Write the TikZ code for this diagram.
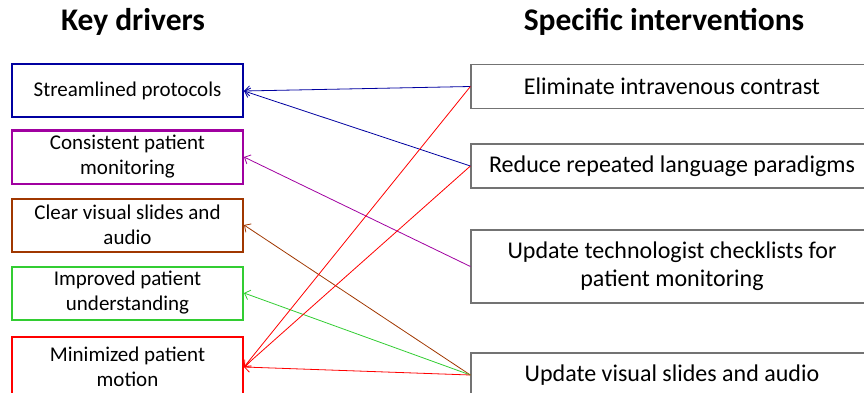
\documentclass[tikz,border=0pt]{standalone}
\usepackage{fontspec}
\setmainfont{Carlito}
\usetikzlibrary{arrows.meta}

\definecolor{drvblue}{RGB}{0,0,160}
\definecolor{drvpurple}{RGB}{160,0,160}
\definecolor{drvbrown}{RGB}{160,55,0}
\definecolor{drvgreen}{RGB}{50,205,50}
\definecolor{drvred}{RGB}{255,0,0}

\begin{document}
\begin{tikzpicture}[x=1pt, y=-1pt,
  driver/.style = {draw, line width=2pt, minimum width=231pt, minimum height=53pt,
                   align=center, font=\fontsize{21}{25}\selectfont, inner sep=0pt},
  action/.style = {draw=black!55, line width=1.2pt, minimum width=402pt, minimum height=44pt,
                   align=center, font=\fontsize{24}{28}\selectfont, inner sep=0pt},
  title/.style = {font=\fontsize{31.5}{36}\selectfont\bfseries},
  link/.style = {line width=0.8pt, -{Straight Barb[length=5pt,width=10pt]}}]
\useasboundingbox (0,0) rectangle (864,393);

\node[title] (kd) at (133,22) {Key drivers};
\node[title] (si) at (664,22) {Specific interventions};

\node[driver, draw=drvblue]   (d1) at (127.5,91)  {Streamlined protocols};
\node[driver, draw=drvpurple] (d2) at (127.5,157) {Consistent patient\\monitoring};
\node[driver, draw=drvbrown]  (d3) at (127.5,225) {Clear visual slides and\\audio};
\node[driver, draw=drvgreen]  (d4) at (127.5,293) {Improved patient\\understanding};
\node[driver, draw=drvred, minimum height=60pt] (d5) at (127.5,367) {Minimized patient\\motion};

\node[action] (i1) at (672,86.5) {Eliminate intravenous contrast};
\node[action] (i2) at (672,166)  {Reduce repeated language paradigms};
\node[action, minimum height=73pt] (i3) at (672,266.5) {Update technologist checklists for\\patient monitoring};
\node[action] (i4) at (672,375) {Update visual slides and audio};

\draw[link, drvblue]   (i1.west) -- (d1.east);
\draw[link, drvblue]   (i2.west) -- (d1.east);
\draw[link, drvpurple] (i3.west) -- (d2.east);
\draw[link, drvbrown]  (i4.west) -- (d3.east);
\draw[link, drvgreen]  (i4.west) -- (d4.east);
\draw[link, drvred]    (i1.west) -- (d5.east);
\draw[link, drvred]    (i2.west) -- (d5.east);
\draw[link, drvred]    (i4.west) -- (d5.east);
\end{tikzpicture}
\end{document}
